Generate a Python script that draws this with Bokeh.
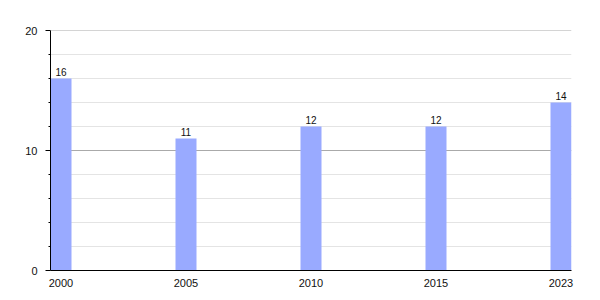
from bokeh.plotting import figure
from bokeh.models import FixedTicker, Range1d, ColumnDataSource, LabelSet, Span
from bokeh.core.properties import value
from bokeh.embed import file_html
from bokeh.resources import INLINE

years = ["2000", "2005", "2010", "2015", "2023"]
values = [16, 11, 12, 12, 14]
y_ticks = [0, 10, 20]
y_minor = [2, 4, 6, 8, 12, 14, 16, 18]

xs = list(range(len(years)))
bw = 0.168

src = ColumnDataSource(dict(x=xs, top=values, lab=[str(v) for v in values]))

p = figure(width=600, height=300, output_backend="svg", toolbar_location=None,
           x_range=Range1d(-bw / 2, len(years) - 1 + bw / 2), y_range=Range1d(0, 20),
           min_border_left=50, min_border_right=29, min_border_top=30, min_border_bottom=30)
p.outline_line_color = None
p.background_fill_color = "white"
p.border_fill_color = "white"

p.add_layout(Span(location=y_ticks[-1], dimension="width", line_color="#aaaaaa", line_width=1))

p.vbar(x="x", top="top", width=bw, source=src, fill_color="#99aaff", line_color=None)

labels = LabelSet(x="x", y="top", text="lab", source=src, text_align="center",
                  text_baseline="bottom", y_offset=3, text_font_size=value("10px"),
                  text_font=value("Liberation Sans"), text_color="#111111")
p.add_layout(labels)

# x axis
p.xaxis.ticker = FixedTicker(ticks=xs)
p.xaxis.major_label_overrides = {i: y for i, y in enumerate(years)}
p.xaxis.major_tick_line_color = None
p.xaxis.minor_tick_line_color = None
p.xaxis.major_label_standoff = 2
p.xaxis.axis_line_color = "black"
p.xaxis.major_label_text_font = "Liberation Sans"
p.xaxis.major_label_text_font_size = "11px"
p.xaxis.major_label_text_color = "#111111"
p.xgrid.grid_line_color = None

# y axis
p.yaxis.ticker = FixedTicker(ticks=y_ticks, minor_ticks=y_minor)
p.yaxis.major_tick_out = 5
p.yaxis.major_tick_in = 0
p.yaxis.minor_tick_out = 2
p.yaxis.minor_tick_in = 0
p.yaxis.major_tick_line_color = "black"
p.yaxis.minor_tick_line_color = "black"
p.yaxis.axis_line_color = "black"
p.yaxis.major_label_standoff = 8
p.yaxis.major_label_text_font = "Liberation Sans"
p.yaxis.major_label_text_font_size = "11px"
p.yaxis.major_label_text_color = "#111111"

p.ygrid.grid_line_color = "#aaaaaa"
p.ygrid.minor_grid_line_color = "#e4e4e4"

open("out.html", "w").write(file_html(p, INLINE))
